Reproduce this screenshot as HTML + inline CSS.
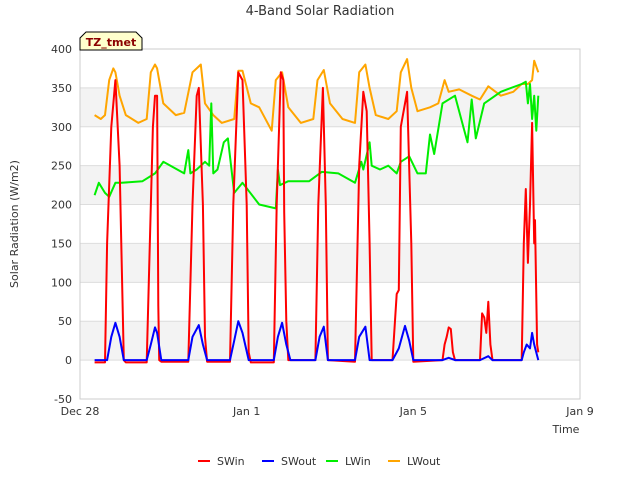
<!DOCTYPE html>
<html><head><meta charset="utf-8"><style>
body{margin:0;background:#fff;font-family:"Liberation Sans","DejaVu Sans",sans-serif;}
svg text{font-family:"DejaVu Sans","Liberation Sans",sans-serif;}
</style></head><body>
<svg id="chart" width="640" height="480" viewBox="0 0 640 480">
<rect width="640" height="480" fill="#fff"/>
<text x="320" y="15" text-anchor="middle" font-size="13" fill="#333">4-Band Solar Radiation</text>
<g id="bands"></g><g id="grid"></g>
<rect x="80" y="49" width="500" height="350" fill="none" stroke="#ccc"/>
<g id="yt"></g><g id="xt"></g><g id="series"></g>
<text x="18" y="224" transform="rotate(-90 18 224)" text-anchor="middle" font-size="11" fill="#333">Solar Radiation (W/m2)</text>
<text x="566" y="433" text-anchor="middle" font-size="11" fill="#333">Time</text>
<g>
<path d="M80,50 L80,38 L86,32 L136,32 L142,38 L142,50 Z" fill="#ffffcc" stroke="#000"/>
<text x="111" y="46" text-anchor="middle" font-size="11" font-weight="bold" fill="#8b0000">TZ_tmet</text>
</g>
<g id="legend"></g>
</svg>
<script>
const yTicks=[-50,0,50,100,150,200,250,300,350,400];
const xTickVals=[0,4,8,12];
const xTickLabels=["Dec 28","Jan 1","Jan 5","Jan 9"];
const seriesNames=["SWin","SWout","LWin","LWout"];
const seriesColors=["#ff0000","#0000ff","#00ee00","#ffa500"];
const swinT=[0.35,0.6,0.65,0.75,0.85,0.95,1.05,1.1,1.6,1.65,1.75,1.8,1.85,1.88,1.9,1.95,2.6,2.7,2.8,2.85,2.95,3.0,3.05,3.6,3.68,3.8,3.9,4.0,4.05,4.1,4.65,4.72,4.82,4.88,4.9,4.95,5.0,5.65,5.72,5.83,5.9,5.95,6.6,6.7,6.8,6.88,6.95,7.0,7.5,7.6,7.65,7.7,7.85,7.95,8.0,8.7,8.75,8.8,8.85,8.9,8.95,9.0,9.6,9.65,9.7,9.75,9.8,9.85,9.9,10.6,10.65,10.7,10.75,10.8,10.85,10.9,10.92,10.97,11.0];
const swinV=[-3,-3,150,300,360,250,0,-3,-3,100,300,340,340,70,0,-2,-2,200,340,350,200,30,-2,-2,200,370,360,200,10,-3,-3,200,370,360,190,50,0,0,200,350,200,0,-2,250,345,320,150,0,0,85,90,300,345,150,-2,0,20,30,42,40,10,0,0,60,55,35,75,20,0,0,150,220,125,200,305,150,180,20,10];
const swoutT=[0.35,0.65,0.75,0.85,0.95,1.05,1.6,1.7,1.8,1.85,1.95,2.6,2.7,2.85,2.95,3.05,3.6,3.7,3.8,3.9,4.05,4.65,4.75,4.85,4.95,5.05,5.65,5.75,5.85,5.95,6.6,6.7,6.85,6.95,7.5,7.65,7.8,7.9,8.0,8.7,8.85,9.0,9.6,9.8,9.9,10.6,10.65,10.72,10.8,10.85,10.9,11.0];
const swoutV=[0,0,30,48,30,0,0,20,42,35,0,0,30,45,20,0,0,25,50,35,0,0,30,48,20,0,0,30,43,0,0,30,43,0,0,15,44,25,0,0,3,0,0,5,0,0,10,20,15,35,20,0];
const lwinT=[0.35,0.45,0.6,0.7,0.85,1.0,1.5,1.8,2.0,2.5,2.6,2.65,2.8,3.0,3.1,3.15,3.2,3.3,3.45,3.55,3.7,3.9,4.3,4.7,4.75,4.8,5.0,5.5,5.8,6.2,6.6,6.75,6.8,6.95,7.0,7.2,7.4,7.6,7.7,7.9,8.1,8.3,8.4,8.5,8.7,9.0,9.2,9.3,9.4,9.5,9.7,10.1,10.6,10.7,10.75,10.8,10.85,10.9,10.95,11.0];
const lwinV=[212,228,215,210,228,228,230,240,255,240,270,240,245,255,250,330,240,245,280,285,215,228,200,195,245,225,230,230,242,240,228,255,245,280,250,245,250,240,255,262,240,240,290,265,330,340,300,280,335,285,330,345,355,358,330,355,310,340,295,340];
const lwoutT=[0.35,0.5,0.6,0.7,0.8,0.85,0.95,1.1,1.4,1.6,1.7,1.8,1.85,2.0,2.3,2.5,2.7,2.8,2.9,3.0,3.2,3.4,3.7,3.8,3.9,4.1,4.3,4.6,4.7,4.85,5.0,5.3,5.6,5.7,5.85,6.0,6.3,6.6,6.7,6.85,6.95,7.1,7.4,7.6,7.7,7.85,7.95,8.1,8.4,8.6,8.75,8.85,9.1,9.4,9.6,9.8,10.1,10.4,10.6,10.75,10.85,10.9,11.0];
const lwoutV=[315,310,315,360,375,370,340,315,305,310,370,380,375,330,315,318,370,375,380,330,315,305,310,372,372,330,325,295,360,370,325,305,310,360,373,330,310,305,370,380,350,315,310,320,370,387,350,320,325,330,360,345,348,340,335,352,340,345,355,355,360,385,370];
const x=t=>80+t*(500/12), y=v=>360.1-v*(350/450);
const ns="http://www.w3.org/2000/svg";
function mk(tag,attrs,parent){const e=document.createElementNS(ns,tag);for(const k in attrs)e.setAttribute(k,attrs[k]);parent.appendChild(e);return e;}
const bands=document.getElementById('bands'),grid=document.getElementById('grid'),yt=document.getElementById('yt'),xt=document.getElementById('xt');
[0,100,200,300].forEach(v=>{const r=mk('rect',{x:80,y:y(v+50),width:500,height:y(v)-y(v+50),fill:'#f3f3f3'},bands);

});
yTicks.forEach(v=>{const l=mk('line',{x1:80,x2:580,y1:y(v),y2:y(v),stroke:'#ddd'},grid);


const t=mk('text',{x:72,y:y(v)+4,'text-anchor':'end','font-size':11,fill:'#333'},yt);t.textContent=v;

});
xTickVals.forEach((d,i)=>{const t=mk('text',{x:x(d),y:415,'text-anchor':'middle','font-size':11,fill:'#333'},xt);t.textContent=xTickLabels[i];

});
const sg=document.getElementById('series');
const data=[[swinT,swinV],[swoutT,swoutV],[lwinT,lwinV],[lwoutT,lwoutV]];
[3,2,0,1].forEach(i=>{const [T,V]=data[i];const p=mk('polyline',{points:T.map((t,j)=>x(t).toFixed(1)+','+y(V[j]).toFixed(1)).join(' '),fill:'none',stroke:seriesColors[i],'stroke-width':2,'stroke-linejoin':'round'},sg);

});
const lg=document.getElementById('legend');const lx=[198,262,326,388];
seriesNames.forEach((n,i)=>{const g=mk('g',{},lg);


mk('line',{x1:lx[i],x2:lx[i]+12,y1:461,y2:461,stroke:seriesColors[i],'stroke-width':2},g);
const t=mk('text',{x:lx[i]+19,y:465,'font-size':11,fill:'#333'},g);t.textContent=n;});
</script>
</body></html>
